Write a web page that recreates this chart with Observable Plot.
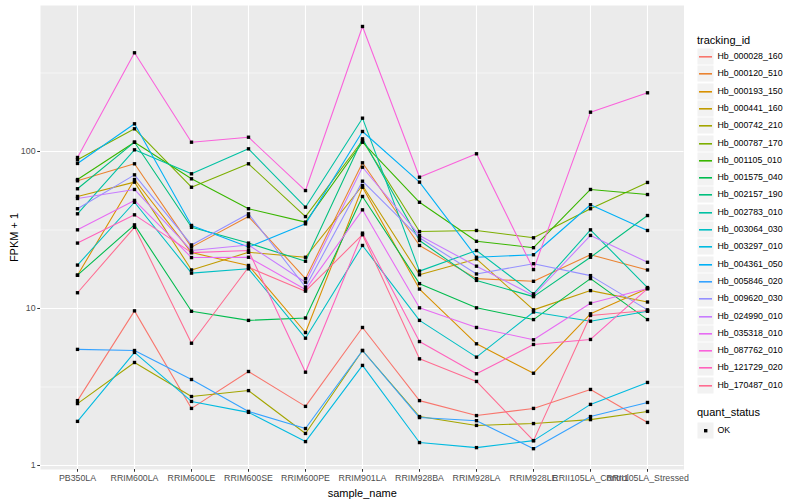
<!DOCTYPE html>
<html><head><meta charset="utf-8">
<script src="https://cdn.jsdelivr.net/npm/d3@7"></script>
<script src="https://cdn.jsdelivr.net/npm/@observablehq/plot@0.6"></script>
<style>
body{margin:0;background:#fff;font-family:"Liberation Sans",Arial,sans-serif;}
#wrap{position:relative;width:800px;height:500px;overflow:hidden;}
#legend{position:absolute;left:697px;top:0;width:103px;font-family:"Liberation Sans",Arial,sans-serif;}
.lt{position:absolute;left:0;font-size:11px;color:#000;white-space:nowrap;line-height:1;}
.row{position:absolute;left:0;height:17px;display:flex;align-items:flex-start;white-space:nowrap;}
.key{display:block;flex:none;}
.lab{font-size:8.8px;color:#000;margin-left:3.5px;line-height:17px;}
[aria-label="x-axis label"] text,[aria-label="y-axis label"] text{fill:#000;font-size:11px;}
</style></head><body><div id="wrap"><div id="legend"></div></div>
<script>
const samples = ["PB350LA","RRIM600LA","RRIM600LE","RRIM600SE","RRIM600PE","RRIM901LA","RRIM928BA","RRIM928LA","RRIM928LE","RRII105LA_Control","RRII105LA_Stressed"];
const ids = ["Hb_000028_160","Hb_000120_510","Hb_000193_150","Hb_000441_160","Hb_000742_210","Hb_000787_170","Hb_001105_010","Hb_001575_040","Hb_002157_190","Hb_002783_010","Hb_003064_030","Hb_003297_010","Hb_004361_050","Hb_005846_020","Hb_009620_030","Hb_024990_010","Hb_035318_010","Hb_087762_010","Hb_121729_020","Hb_170487_010"];
const colors = ["#F8766D","#EA8331","#D89000","#C09B00","#A3A500","#7CAE00","#39B600","#00BB4E","#00BF7D","#00C1A3","#00BFC4","#00BAE0","#00B0F6","#35A2FF","#9590FF","#C77CFF","#E76BF3","#FA62DB","#FF62BC","#FF6C91"];

const Hb_000028_160 = [2.59, 9.66, 2.31, 3.97, 2.38, 7.57, 2.59, 2.08, 2.31, 3.05, 1.88];
const Hb_000120_510 = [65.1, 83.5, 24.6, 38.5, 15.5, 84.7, 25.2, 15.5, 14.9, 22.0, 17.6];
const Hb_000193_150 = [16.3, 66.3, 22.7, 18.8, 7.03, 59.2, 13.3, 5.96, 3.87, 9.25, 13.4];
const Hb_000441_160 = [51.7, 63.8, 17.6, 22.8, 21.2, 60.7, 16.4, 20.7, 9.8, 13.0, 11.0];
const Hb_000742_210 = [2.48, 4.53, 2.75, 3.0, 1.6, 5.40, 2.05, 1.80, 1.85, 1.96, 2.21];
const Hb_000787_170 = [88.5, 139.5, 59.2, 83.5, 38.5, 117.5, 30.9, 31.4, 28.2, 43.2, 63.5];
const Hb_001105_010 = [66.3, 114.6, 67.0, 43.2, 35.5, 114.6, 47.5, 26.8, 24.4, 57.3, 53.2];
const Hb_001575_040 = [16.3, 34.1, 9.6, 8.4, 8.7, 51.7, 14.4, 10.1, 8.5, 15.5, 8.5];
const Hb_002157_190 = [57.9, 114.6, 32.9, 26.1, 20.0, 120.4, 27.1, 15.1, 11.9, 21.2, 39.1];
const Hb_002783_010 = [40.1, 102.5, 72.1, 104.0, 44.2, 163.0, 17.3, 23.4, 12.4, 31.7, 13.6];
const Hb_003064_030 = [18.9, 47.5, 16.8, 17.9, 6.47, 25.2, 8.4, 4.9, 9.5, 8.3, 9.6];
const Hb_003297_010 = [1.91, 5.25, 2.56, 2.18, 1.42, 4.34, 1.40, 1.30, 1.44, 2.45, 3.38];
const Hb_004361_050 = [83.9, 150.1, 33.8, 24.6, 34.6, 134.1, 63.8, 21.2, 22.0, 45.8, 31.4];
const Hb_005846_020 = [5.49, 5.40, 3.53, 2.21, 1.72, 5.40, 2.02, 1.93, 1.28, 2.05, 2.52];
const Hb_009620_030 = [43.2, 71.0, 25.4, 40.1, 13.7, 64.7, 28.2, 16.6, 19.3, 16.2, 9.8];
const Hb_024990_010 = [50.2, 57.3, 23.4, 25.4, 14.7, 79.4, 29.2, 18.6, 12.1, 29.2, 19.7];
const Hb_035318_010 = [31.7, 48.8, 21.1, 21.2, 13.2, 42.5, 10.1, 7.57, 6.32, 10.8, 13.4];
const Hb_087762_010 = [91.6, 425.3, 114.6, 123.3, 56.4, 625.5, 68.6, 96.7, 17.7, 178.0, 236.5];
const Hb_121729_020 = [26.1, 39.5, 22.7, 23.4, 3.93, 30.2, 6.16, 3.84, 5.90, 6.35, 13.4];
const Hb_170487_010 = [12.6, 32.9, 6.01, 18.3, 12.9, 29.5, 4.78, 3.43, 1.44, 9.03, 9.7];

const seriesValues = [Hb_000028_160,Hb_000120_510,Hb_000193_150,Hb_000441_160,Hb_000742_210,Hb_000787_170,Hb_001105_010,Hb_001575_040,Hb_002157_190,Hb_002783_010,Hb_003064_030,Hb_003297_010,Hb_004361_050,Hb_005846_020,Hb_009620_030,Hb_024990_010,Hb_035318_010,Hb_087762_010,Hb_121729_020,Hb_170487_010];
const yTicks = [1, 10, 100];
const yMinor = [3.1623, 31.623, 316.23];
const statusLevels = ["OK"];

const rows = ids.flatMap((id, i) => samples.map((s, j) => ({id, sample: s, value: seriesValues[i][j], quant_status: "OK"})));

const plot = Plot.plot({
  width: 800, height: 500,
  marginLeft: 40, marginRight: 116.5, marginTop: 5, marginBottom: 31,
  style: {fontFamily: "'Liberation Sans', Arial, sans-serif", fontSize: "8.8px", color: "#4D4D4D", background: "white"},
  x: {type: "point", domain: samples, padding: 0.6},
  y: {type: "log", domain: [0.943, 851]},
  color: {domain: ids, range: colors},
  marks: [
    Plot.frame({fill: "#EBEBEB", stroke: null}),
    Plot.ruleY(yMinor, {stroke: "white", strokeWidth: 0.55}),
    Plot.ruleY(yTicks, {stroke: "white", strokeWidth: 1.1}),
    Plot.ruleX(samples, {stroke: "white", strokeWidth: 1.1}),
    Plot.line(rows, {x: "sample", y: "value", z: "id", stroke: "id", strokeWidth: 1.07}),
    Plot.dot(rows, {x: "sample", y: "value", fill: "black", stroke: null, symbol: "square", r: 1.9}),
    Plot.axisY(yTicks, {tickSize: 2.75, tickPadding: 2.2, stroke: "#333", fill: "#4D4D4D", fontSize: 8.8, tickFormat: d => String(d), label: "FPKM + 1", labelAnchor: "center", labelOffset: 30, labelArrow: "none"}),
    Plot.axisX(samples, {tickSize: 2.75, tickPadding: 2.2, stroke: "#333", fill: "#4D4D4D", fontSize: 8.8, label: "sample_name", labelAnchor: "center", labelOffset: 27, labelArrow: "none"})
  ]
});
document.getElementById("wrap").prepend(plot);

// legend
const lg = d3.select("#legend");
lg.append("div").attr("class", "lt").style("top", "34.5px").text("tracking_id");
function keySvg(row) {
  const svg = row.append("svg").attr("class", "key").attr("width", 17).attr("height", 17);
  svg.append("rect").attr("x", 0.5).attr("y", 0.5).attr("width", 16).attr("height", 16).attr("fill", "#F2F2F2");
  return svg;
}
ids.forEach((id, i) => {
  const r = lg.append("div").attr("class", "row").style("top", Math.round(48 + i * 17.3) + "px");
  const k = keySvg(r);
  k.append("rect").attr("x", 2).attr("y", 8).attr("width", 13).attr("height", 1.6).attr("fill", colors[i]);
  r.append("span").attr("class", "lab").text(id);
});
lg.append("div").attr("class", "lt").style("top", "406.5px").text("quant_status");
statusLevels.forEach((s, i) => {
  const r = lg.append("div").attr("class", "row").style("top", Math.round(422 + i * 17.3) + "px");
  const k = keySvg(r);
  k.append("rect").attr("x", 7).attr("y", 7).attr("width", 3.4).attr("height", 3.4).attr("fill", "black");
  r.append("span").attr("class", "lab").text(s);
});
</script></body></html>
